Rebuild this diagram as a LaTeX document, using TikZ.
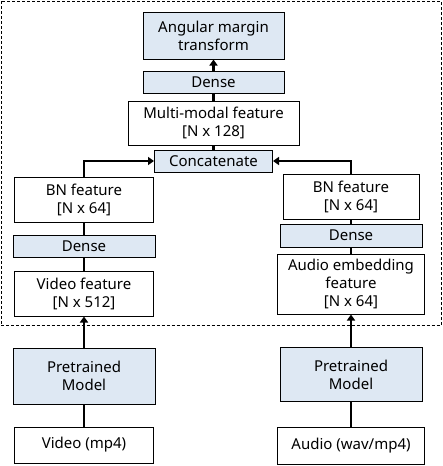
\documentclass[tikz,border=0pt]{standalone}
\usepackage{fontspec}
\setmainfont{Noto Sans}
\usetikzlibrary{arrows.meta}
\definecolor{lb}{RGB}{222,232,243}
\tikzset{
  box/.style={draw=black, line width=1pt, fill=white, align=center, inner sep=0pt,
    font=\fontsize{15}{18}\selectfont},
  bluebox/.style={box, fill=lb},
  conn/.style={line width=2.6pt},
  arr/.style={conn, -{Triangle[width=8pt,length=6pt]}},
  frame/.style={draw=black, line width=0.9pt, dash pattern=on 3pt off 2pt}
}
\begin{document}
\begin{tikzpicture}[x=1pt,y=-1pt]
\useasboundingbox (0,0) rectangle (443,466);
\draw[frame] (1,1) rectangle (441,325.5);
% top stack
\node[bluebox, minimum width=141pt, minimum height=47pt] (amt) at (213.5,35.5) {Angular margin\\transform};
\node[bluebox, minimum width=141pt, minimum height=22pt] (dt) at (213.5,82) {Dense};
\node[box, minimum width=171pt, minimum height=44pt] (mm) at (213.5,123) {Multi-modal feature\\{}[N x 128]};
\node[bluebox, minimum width=118pt, minimum height=22pt] (cc) at (213.5,161) {Concatenate};
% left column
\node[box, minimum width=139pt, minimum height=45pt] (bnl) at (84,199.5) {BN feature\\{}[N x 64]};
\node[bluebox, minimum width=142pt, minimum height=22pt] (dl) at (84,246.5) {Dense};
\node[box, minimum width=139pt, minimum height=45pt] (vf) at (84,293.5) {Video feature\\{}[N x 512]};
\node[bluebox, minimum width=142pt, minimum height=56pt] (pl) at (84,376) {Pretrained\\Model};
\node[box, minimum width=139pt, minimum height=36pt] (vin) at (84,445) {Video (mp4)};
% right column
\node[box, minimum width=136pt, minimum height=45pt] (bnr) at (351,196.5) {BN feature\\{}[N x 64]};
\node[bluebox, minimum width=142pt, minimum height=23pt] (dr) at (351,235.5) {Dense};
\node[box, minimum width=147pt, minimum height=60pt] (ae) at (351,284) {Audio embedding\\feature\\{}[N x 64]};
\node[bluebox, minimum width=142pt, minimum height=54pt] (pr) at (351,374.5) {Pretrained\\Model};
\node[box, minimum width=147pt, minimum height=37pt] (ain) at (351,445.5) {Audio (wav/mp4)};
% connectors
\draw[conn] (vin) -- (pl);
\draw[arr] (pl) -- (vf);
\draw[conn] (vf) -- (dl);
\draw[conn] (dl) -- (bnl);
\draw[arr] (bnl.north) |- (cc.west);
\draw[conn] (ain) -- (pr);
\draw[arr] (pr) -- (ae);
\draw[conn] (ae) -- (dr);
\draw[conn] (dr) -- (bnr);
\draw[arr] (bnr.north) |- (cc.east);
\draw[conn] (cc) -- (mm);
\draw[conn] (mm) -- (dt);
\draw[arr] (dt) -- (amt);
\end{tikzpicture}
\end{document}
